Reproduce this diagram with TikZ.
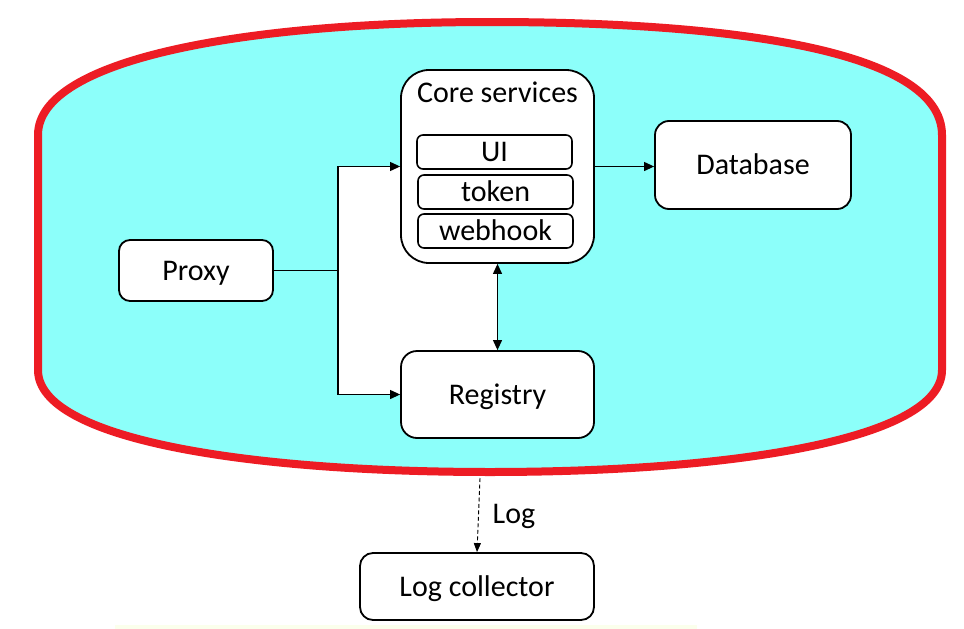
\documentclass[tikz,border=0pt]{standalone}
\usepackage{fontspec}
\setmainfont{Carlito}
\usetikzlibrary{arrows.meta}
\definecolor{sky}{RGB}{140,255,250}
\definecolor{outred}{RGB}{237,28,36}
\definecolor{paleyel}{RGB}{251,255,236}
\begin{document}
\begin{tikzpicture}[x=1pt,y=-1pt,
  box/.style={draw=black,line width=1.8pt,fill=white,inner sep=0pt,text height=19.5pt,text depth=0pt,font=\fontsize{30}{34}\selectfont},
  txt/.style={inner sep=0pt,text height=19.5pt,text depth=0pt,font=\fontsize{30}{34}\selectfont},
  conn/.style={draw=black,line width=1.1pt},
  tip/.style={-{Triangle[length=10pt,width=9pt]}},
  dtip/.style={{Triangle[length=10pt,width=9pt]}-{Triangle[length=10pt,width=9pt]}}]
\useasboundingbox (0,0) rectangle (964,629);
\fill[white] (0,0) rectangle (964,629);
\fill[paleyel] (115,625) rectangle (697,629);
% container
\draw[outred,line width=8pt,fill=sky]
  (38,135) .. controls (38,58) and (250,22) .. (490,22)
  .. controls (730,22) and (942,50) .. (942,135)
  -- (942,370)
  .. controls (942,440) and (730,472) .. (490,472)
  .. controls (250,472) and (38,440) .. (38,370) -- cycle;
% white backdrop behind connectors
\fill[white] (338,166) rectangle (497.5,395);
% nodes
\node[box,rounded corners=28pt,minimum width=193pt,minimum height=193pt] (core) at (497.5,166.5) {};
\node[txt] (coretitle) at (497.5,93) {Core services};
\node[box,line width=1.6pt,rounded corners=6pt,minimum width=155pt,minimum height=34pt] (ui) at (494.5,152) {UI};
\node[box,line width=1.6pt,rounded corners=6pt,minimum width=155pt,minimum height=34pt] (token) at (495.5,192) {token};
\node[box,line width=1.6pt,rounded corners=6pt,minimum width=155pt,minimum height=34pt] (webhook) at (495.5,231) {webhook};
\node[box,rounded corners=14pt,minimum width=196pt,minimum height=88pt] (db) at (753,165) {Database};
\node[box,rounded corners=11pt,minimum width=154pt,minimum height=61pt] (proxy) at (196,270.5) {Proxy};
\node[box,rounded corners=16pt,minimum width=193pt,minimum height=87pt] (reg) at (497.5,394.5) {Registry};
\node[box,rounded corners=13pt,minimum width=234pt,minimum height=67pt] (logc) at (477,586.5) {Log collector};
% connectors
\coordinate (j) at (338,270.5);
\draw[conn] (proxy.east) -- (j);
\draw[conn,tip] (j) |- (core.west);
\draw[conn,tip] (j) |- (reg.west);
\draw[conn,tip] (core.east) -- (core.east -| db.west);
\draw[conn,dtip] (core.south) -- (reg.north);
\coordinate (logsrc) at (480,478);
\draw[conn,dash pattern=on 4pt off 2.5pt,line width=0.9pt,-{Triangle[length=9pt,width=7pt]}] (logsrc) -- (logc.north);
\node[txt] (loglabel) at (514,514) {Log};
\end{tikzpicture}
\end{document}
